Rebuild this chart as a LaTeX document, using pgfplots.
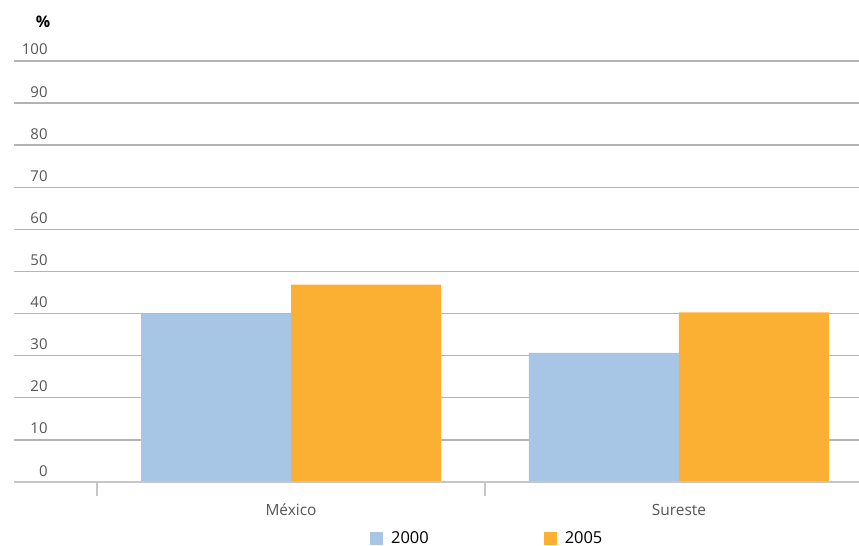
\documentclass[border=0pt]{standalone}
\usepackage{pgfplots}
\pgfplotsset{compat=1.18}
\usepackage{fontspec}
\setmainfont{Open Sans}
\definecolor{azul}{HTML}{A7C6E5}
\definecolor{naranja}{HTML}{FBB034}
\definecolor{rejilla}{HTML}{B4B4B4}
\definecolor{eje}{HTML}{C6C6C6}
\definecolor{texto}{HTML}{555555}

\pgfplotstableread{
cat  a2000  a2005
0    40.0   46.9
1    30.7   40.3
}\datos

\begin{document}
\begin{tikzpicture}
\useasboundingbox (-14bp,-64bp) rectangle (845bp,482bp);
\begin{axis}[
  scale only axis,
  width=845bp, height=421bp,
  anchor=south west, at={(0,0)},
  xmin=-0.714, xmax=1.464,
  ymin=0, ymax=100,
  axis line style={draw=none},
  ybar=0pt, bar width=150bp,
  /pgf/number format/assume math mode=true,
  xtick={0,1}, xticklabels={México,Sureste},
  xtick pos=bottom,
  major x tick style={draw=none},
  minor xtick={-0.5,0.5,1.5},
  minor tick length=14bp,
  tick align=outside,
  minor x tick style={eje, line width=1.6bp},
  xticklabel style={font=\fontsize{15.5}{17}\selectfont, text=texto, anchor=base, inner sep=0pt, yshift=-29.5bp},
  ytick={0,10,...,100},
  ytick pos=left,
  major y tick style={draw=none},
  ymajorgrids,
  grid style={rejilla, line width=1.4bp},
  yticklabel style={font=\fontsize{15}{17}\selectfont, text=texto, anchor=base east, inner sep=0pt, xshift=38bp, yshift=6bp},
  legend style={draw=none, fill=none, inner sep=0pt, at={(rel axis cs:0.4213,-0.134)}, anchor=west,
    font=\fontsize{16.5}{18}\selectfont, legend columns=2,
    /tikz/every even column/.append style={column sep=113bp}},
  legend image code/.code={\fill[#1] (0bp,-6.5bp) rectangle (13bp,6.5bp); \path (0bp,0bp) -- (19bp,0bp);},
]
\addplot[fill=azul, draw=none] table[x=cat, y=a2000] {\datos};
\addplot[fill=naranja, draw=none] table[x=cat, y=a2005] {\datos};
\legend{2000,2005}
\draw[eje, line width=2.4bp] (rel axis cs:0,0) -- (rel axis cs:1,0);
\end{axis}
\node[font=\bfseries\fontsize{16}{18}\selectfont] at (29bp,460bp) {\%};
\end{tikzpicture}
\end{document}
